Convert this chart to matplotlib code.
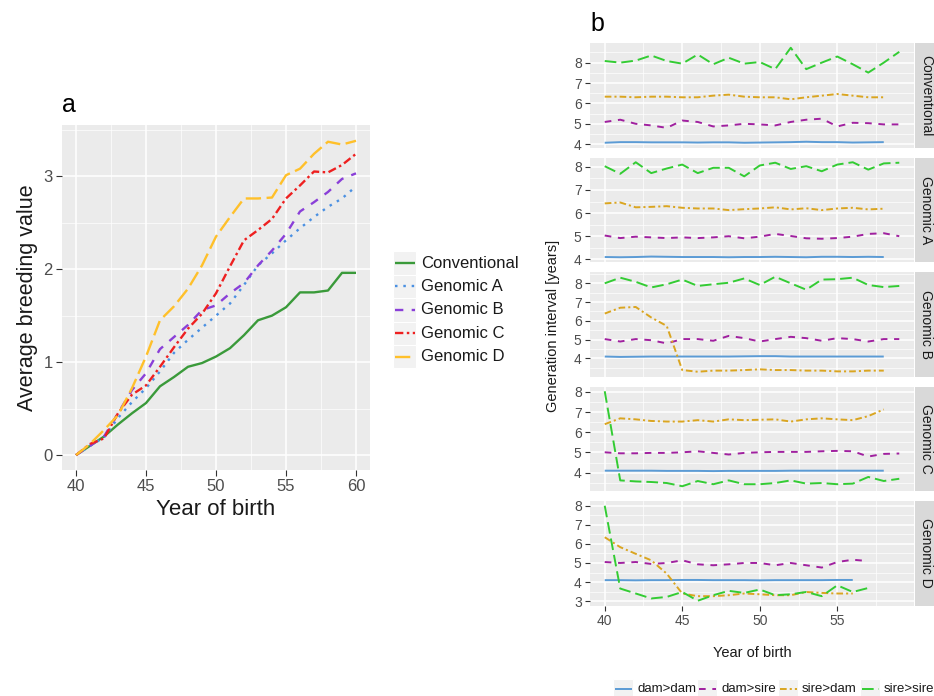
import matplotlib
matplotlib.use('Agg')
import matplotlib.pyplot as plt
from matplotlib.lines import Line2D
from matplotlib.patches import Rectangle
from matplotlib.ticker import MultipleLocator, FixedLocator

plt.rcParams['font.family'] = ['Liberation Sans', 'DejaVu Sans']
plt.rcParams['lines.scale_dashes'] = False

# ---------------- data: panel a ----------------
years_a = list(range(40, 61))
conventional = [0, 0.1, 0.2, 0.33, 0.45, 0.56, 0.74, 0.84, 0.95, 0.99, 1.06, 1.15, 1.29, 1.45,
                1.5, 1.59, 1.75, 1.75, 1.77, 1.96, 1.96]
genomic_a = [0, 0.1, 0.19, 0.4, 0.57, 0.72, 0.9, 1.1, 1.24, 1.37, 1.5, 1.63, 1.83, 2.04,
             2.17, 2.31, 2.44, 2.56, 2.67, 2.76, 2.89]
genomic_b = [0, 0.1, 0.2, 0.45, 0.7, 0.88, 1.14, 1.27, 1.4, 1.56, 1.61, 1.74, 1.85, 2.04,
             2.2, 2.38, 2.62, 2.72, 2.83, 2.97, 3.03]
genomic_c = [0, 0.12, 0.18, 0.45, 0.65, 0.75, 0.95, 1.16, 1.36, 1.52, 1.74, 2.03, 2.31, 2.42,
             2.54, 2.76, 2.9, 3.05, 3.04, 3.12, 3.24]
genomic_d = [0, 0.12, 0.27, 0.43, 0.72, 1.06, 1.45, 1.6, 1.79, 2.04, 2.35, 2.56, 2.76, 2.76,
             2.77, 3.01, 3.08, 3.24, 3.37, 3.34, 3.38]
labels_a = ['Conventional', 'Genomic A', 'Genomic B', 'Genomic C', 'Genomic D']

# ---------------- data: panel b ----------------
years_b = list(range(40, 60))
facets = ['Conventional', 'Genomic A', 'Genomic B', 'Genomic C', 'Genomic D']
pathways = ['dam>dam', 'dam>sire', 'sire>dam', 'sire>sire']

conv_dd = [4.07, 4.1, 4.1, 4.09, 4.09, 4.09, 4.08, 4.09, 4.09, 4.07, 4.08, 4.09, 4.1, 4.12, 4.1, 4.1, 4.08, 4.09, 4.1]
conv_ds = [5.09, 5.2, 5.0, 4.92, 4.8, 5.16, 5.09, 4.87, 4.92, 5.0, 4.97, 4.92, 5.09, 5.2, 5.25, 4.87, 5.05, 5.03, 4.97, 4.97]
conv_sd = [6.33, 6.33, 6.3, 6.33, 6.33, 6.3, 6.3, 6.38, 6.43, 6.33, 6.3, 6.3, 6.2, 6.3, 6.38, 6.46, 6.38, 6.3, 6.3]
conv_ss = [8.08, 8.0, 8.1, 8.35, 8.08, 7.95, 8.4, 7.92, 8.24, 7.95, 8.03, 7.68, 8.73, 7.68, 8.0, 8.3, 7.92, 7.51, 8.0, 8.53]

genA_dd = [4.1, 4.09, 4.1, 4.12, 4.11, 4.1, 4.1, 4.1, 4.09, 4.1, 4.1, 4.11, 4.1, 4.09, 4.11, 4.11, 4.1, 4.11, 4.1]
genA_ds = [5.03, 4.92, 4.98, 4.95, 4.92, 4.95, 4.92, 4.95, 5.0, 4.91, 4.98, 5.1, 5.01, 4.91, 4.89, 4.92, 4.98, 5.1, 5.13, 5.0]
genA_sd = [6.42, 6.46, 6.25, 6.27, 6.3, 6.23, 6.2, 6.2, 6.13, 6.17, 6.2, 6.25, 6.16, 6.21, 6.13, 6.2, 6.23, 6.16, 6.19]
genA_ss = [8.03, 7.7, 8.2, 7.73, 7.93, 8.1, 7.73, 7.96, 7.96, 7.59, 8.06, 8.18, 7.91, 8.03, 7.81, 8.1, 8.2, 7.88, 8.15, 8.18]

genB_dd = [4.1, 4.08, 4.09, 4.1, 4.1, 4.1, 4.1, 4.1, 4.1, 4.11, 4.12, 4.12, 4.1, 4.1, 4.1, 4.1, 4.1, 4.1, 4.1]
genB_ds = [5.03, 4.9, 5.03, 4.97, 4.8, 5.03, 5.03, 4.94, 5.2, 5.08, 4.9, 5.03, 5.15, 5.08, 4.94, 5.08, 5.03, 4.9, 5.03, 5.03]
genB_sd = [6.39, 6.7, 6.74, 6.18, 5.73, 3.38, 3.29, 3.35, 3.35, 3.38, 3.42, 3.38, 3.38, 3.35, 3.35, 3.31, 3.31, 3.35, 3.35]
genB_ss = [8.0, 8.3, 8.08, 7.78, 7.95, 8.2, 7.86, 7.95, 8.03, 8.26, 7.91, 8.35, 8.0, 7.66, 8.2, 8.22, 8.3, 7.91, 7.8, 7.86]

genC_dd = [4.1, 4.1, 4.1, 4.1, 4.09, 4.09, 4.09, 4.08, 4.09, 4.09, 4.09, 4.09, 4.1, 4.1, 4.1, 4.1, 4.1, 4.1, 4.1]
genC_ds = [5.01, 4.96, 4.96, 4.98, 4.98, 5.01, 5.06, 4.98, 4.9, 4.98, 5.01, 5.03, 5.03, 5.03, 5.06, 5.08, 5.06, 4.8, 4.93, 4.95]
genC_sd = [6.4, 6.69, 6.64, 6.56, 6.53, 6.53, 6.6, 6.53, 6.64, 6.6, 6.62, 6.64, 6.53, 6.64, 6.69, 6.64, 6.6, 6.8, 7.13]
genC_ss = [8.03, 3.62, 3.57, 3.54, 3.49, 3.33, 3.59, 3.43, 3.62, 3.43, 3.43, 3.49, 3.62, 3.46, 3.49, 3.43, 3.46, 3.79, 3.59, 3.7]

genD_dd = [4.1, 4.1, 4.09, 4.1, 4.1, 4.11, 4.11, 4.1, 4.1, 4.1, 4.09, 4.1, 4.1, 4.1, 4.1, 4.11, 4.11]
genD_ds = [5.05, 5.0, 5.05, 4.95, 5.0, 5.14, 4.93, 4.88, 4.93, 5.0, 5.0, 4.88, 5.0, 4.88, 4.76, 5.05, 5.17, 5.1]
genD_sd = [6.35, 5.83, 5.48, 5.14, 4.44, 3.4, 3.26, 3.26, 3.31, 3.4, 3.36, 3.31, 3.31, 3.48, 3.43, 3.4, 3.4]
genD_ss = [8.0, 3.66, 3.4, 3.14, 3.22, 3.48, 3.02, 3.31, 3.54, 3.43, 3.61, 3.31, 3.36, 3.48, 3.26, 3.83, 3.48, 3.69]

# ---------------- styles ----------------
style_a = [
    dict(color='#3A9A3A', ls='-'),
    dict(color='#4A90E2', ls=(0, (1.8, 4.2))),
    dict(color='#8A3FD8', ls=(0, (6, 6))),
    dict(color='#EE2020', ls=(0, (6, 2.5, 1.8, 2.5))),
    dict(color='#FFC02A', ls=(0, (11, 4))),
]
style_b = [
    dict(color='#5B9BD5', ls='-'),
    dict(color='#A0209F', ls=(0, (4.8, 4.8))),
    dict(color='#DAA520', ls=(0, (4.8, 2.2, 1.5, 2.2))),
    dict(color='#33CC33', ls=(0, (8.4, 3.6))),
]

W, H = 934, 696
fig = plt.figure(figsize=(W / 100, H / 100), dpi=100)
BG = '#EBEBEB'
TXT = '#1A1A1A'
TICK = '#4D4D4D'


def ax_px(l, t, r, b):
    return fig.add_axes([l / W, 1 - b / H, (r - l) / W, (b - t) / H])


def theme(ax, fs, tl, pad, show_x=True):
    ax.set_facecolor(BG)
    for s in ax.spines.values():
        s.set_visible(False)
    ax.grid(which='major', color='white', lw=1.1)
    ax.grid(which='minor', color='white', lw=0.5)
    ax.set_axisbelow(True)
    ax.tick_params(which='major', color='#333333', labelcolor=TICK, length=tl,
                   width=0.8, pad=pad, labelsize=fs)
    ax.tick_params(which='minor', length=0)
    if not show_x:
        ax.tick_params(axis='x', which='major', length=0, labelbottom=False)


# overlay in pixel coordinates for legends / strips / labels
ov = fig.add_axes([0, 0, 1, 1])
ov.set_xlim(0, W)
ov.set_ylim(H, 0)
ov.axis('off')
ov.set_zorder(5)

# ---------------- panel a ----------------
axa = ax_px(62, 125, 370, 470)
theme(axa, 12, 4.0, 2.8)
series_a = [conventional, genomic_a, genomic_b, genomic_c, genomic_d]
for vals, st in zip(series_a, style_a):
    axa.plot(years_a, vals, color=st['color'], linestyle=st['ls'], lw=1.7,
             dash_capstyle='butt', solid_capstyle='butt')
axa.set_xlim(39, 61)
axa.set_ylim(-0.16, 3.55)
axa.xaxis.set_major_locator(FixedLocator([40, 45, 50, 55, 60]))
axa.xaxis.set_minor_locator(FixedLocator([42.5, 47.5, 52.5, 57.5]))
axa.yaxis.set_major_locator(FixedLocator([0, 1, 2, 3]))
axa.yaxis.set_minor_locator(FixedLocator([0.5, 1.5, 2.5, 3.5]))
axa.set_xlabel('Year of birth', fontsize=16, color=TXT, labelpad=3)
axa.set_ylabel('Average breeding value', fontsize=15.5, color=TXT, labelpad=4)
ov.text(62, 112, 'a', fontsize=18, color='black', va='baseline', ha='left')

# legend a
for i, (lab, st) in enumerate(zip(labels_a, style_a)):
    cy = 263 + i * 23.4
    ov.add_patch(Rectangle((393, cy - 11.7), 23.4, 23.4, facecolor='#F2F2F2',
                           edgecolor='white', lw=0.8))
    ov.add_line(Line2D([395, 414.5], [cy, cy], color=st['color'], linestyle=st['ls'], lw=1.7,
                       dash_capstyle='butt', solid_capstyle='butt'))
    ov.text(421, cy, lab, fontsize=12, color=TXT, va='center', ha='left')

# ---------------- panel b ----------------
data_b = [
    [conv_dd, conv_ds, conv_sd, conv_ss],
    [genA_dd, genA_ds, genA_sd, genA_ss],
    [genB_dd, genB_ds, genB_sd, genB_ss],
    [genC_dd, genC_ds, genC_sd, genC_ss],
    [genD_dd, genD_ds, genD_sd, genD_ss],
]
tops = [43, 157.5, 272, 386.5, 501]
ph = 104.5
for k, (fac, series) in enumerate(zip(facets, data_b)):
    t = tops[k]
    ax = ax_px(590, t, 914, t + ph)
    last = (k == len(facets) - 1)
    theme(ax, 10, 3.5, 2.5, show_x=last)
    for vals, st in zip(series, style_b):
        ax.plot(years_b[:len(vals)], vals, color=st['color'], linestyle=st['ls'], lw=1.4,
                dash_capstyle='butt', solid_capstyle='butt')
    ax.set_xlim(39.05, 59.95)
    ax.margins(y=0.05)
    ax.xaxis.set_major_locator(FixedLocator([40, 45, 50, 55]))
    ax.xaxis.set_minor_locator(FixedLocator([42.5, 47.5, 52.5, 57.5]))
    ax.yaxis.set_major_locator(MultipleLocator(1))
    ax.yaxis.set_minor_locator(MultipleLocator(0.5))
    # strip
    ov.add_patch(Rectangle((915, t), 24, ph, facecolor='#D9D9D9', edgecolor='none'))
    ov.text(926, t + ph / 2, fac, rotation=270, fontsize=10, color=TXT,
            ha='center', va='center')
    if last:
        ax.set_xlabel('Year of birth', fontsize=10.5, color=TXT, labelpad=13)

ov.text(590, 31, 'b', fontsize=18, color='black', va='baseline', ha='left')
ov.text(553, 326, 'Generation interval [years]', rotation=90, fontsize=10.5, color=TXT,
        ha='center', va='center')

# legend b
key_x = [613, 697, 778, 860]
for x0, lab, st in zip(key_x, pathways, style_b):
    cy = 689
    ov.add_patch(Rectangle((x0, cy - 10), 20, 20, facecolor='#F2F2F2', edgecolor='white', lw=0.8))
    ov.add_line(Line2D([x0 + 1.5, x0 + 18.5], [cy, cy], color=st['color'], linestyle=st['ls'],
                       lw=1.4, dash_capstyle='butt', solid_capstyle='butt'))
    ov.text(x0 + 24, cy, lab, fontsize=9.5, color=TXT, va='center', ha='left')

fig.savefig('out.png', dpi=100, facecolor='white')
